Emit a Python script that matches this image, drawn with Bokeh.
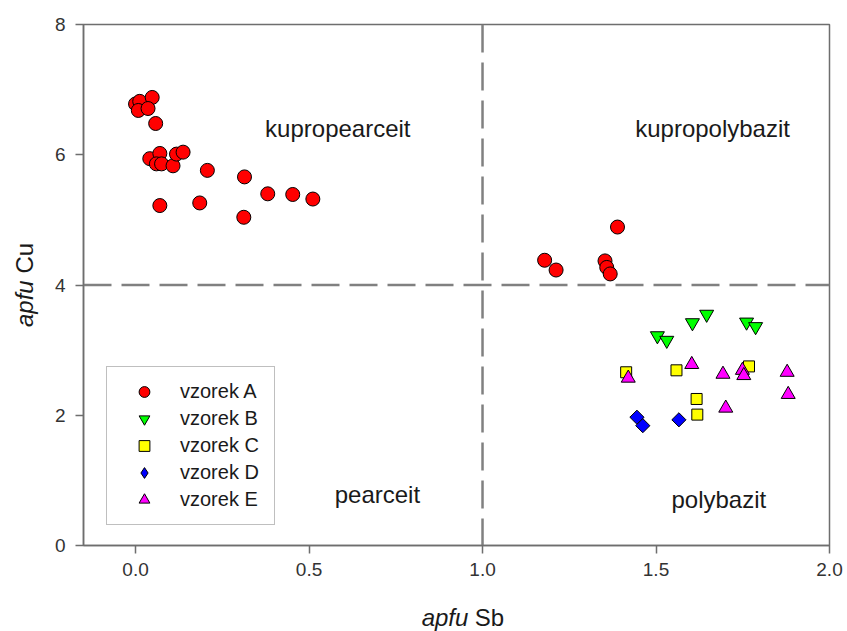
import math
from bokeh.plotting import figure
from bokeh.layouts import row, column
from bokeh.models import Span, Label, Legend, LegendItem, FixedTicker, CustomJSTickFormatter
from bokeh.embed import file_html
from bokeh.resources import INLINE

# ---- data (apfu Sb, apfu Cu) ----
a_sb = [0.00, 0.012, 0.048, 0.008, 0.036, 0.058, 0.041, 0.070, 0.060, 0.075, 0.108,
        0.118, 0.137, 0.207, 0.314, 0.381, 0.453, 0.511, 0.070, 0.185, 0.312,
        1.179, 1.212, 1.389, 1.353, 1.358, 1.368]
a_cu = [6.78, 6.82, 6.88, 6.68, 6.71, 6.48, 5.94, 6.02, 5.86, 5.86, 5.83,
        6.01, 6.04, 5.76, 5.66, 5.40, 5.39, 5.32, 5.22, 5.26, 5.04,
        4.38, 4.23, 4.89, 4.37, 4.27, 4.17]
b_sb = [1.504, 1.531, 1.605, 1.646, 1.761, 1.787]
b_cu = [3.22, 3.15, 3.42, 3.55, 3.43, 3.36]
c_sb = [1.414, 1.559, 1.768, 1.617, 1.619]
c_cu = [2.66, 2.69, 2.75, 2.25, 2.01]
d_sb = [1.445, 1.462, 1.566]
d_cu = [1.97, 1.84, 1.93]
e_sb = [1.420, 1.603, 1.693, 1.749, 1.753, 1.878, 1.881, 1.701]
e_cu = [2.57, 2.78, 2.63, 2.69, 2.61, 2.66, 2.32, 2.11]

series_names = ["vzorek A", "vzorek B", "vzorek C", "vzorek D", "vzorek E"]
x_ticks = [0.0, 0.5, 1.0, 1.5, 2.0]
y_ticks = [0, 2, 4, 6, 8]
region_names = ["kupropearceit", "kupropolybazit", "pearceit", "polybazit"]
x_title = ("apfu", "Sb")
y_title = ("apfu", "Cu")

FONT = "Liberation Sans"
AX = "#6e6e6e"
TXT = "#1a1a1a"


def blank(width, height):
    f = figure(width=width, height=height, x_range=(0, width), y_range=(0, height),
               output_backend="svg", toolbar_location=None, min_border=0,
               x_axis_location=None, y_axis_location=None)
    f.outline_line_color = None
    for g in f.grid:
        g.visible = False
    return f


# ---------------- main plot ----------------
p = figure(width=797, height=596, x_range=(-0.15, 2.0), y_range=(0, 8),
           output_backend="svg", toolbar_location=None,
           min_border_left=33, min_border_right=18, min_border_top=24, min_border_bottom=51)
p.xgrid.visible = False
p.ygrid.visible = False
p.outline_line_color = AX
p.outline_line_width = 1.5

for ax in (p.xaxis[0], p.yaxis[0]):
    ax.axis_line_color = AX
    ax.axis_line_width = 1.5
    ax.major_tick_line_color = AX
    ax.major_tick_line_width = 1.5
    ax.major_tick_out = 8
    ax.major_tick_in = 0
    ax.minor_tick_line_color = None
    ax.major_label_text_font = FONT
    ax.major_label_text_font_size = "19px"
    ax.major_label_text_color = "#333333"

p.xaxis[0].ticker = FixedTicker(ticks=x_ticks)
p.xaxis[0].formatter = CustomJSTickFormatter(code="return tick.toFixed(1);")
p.xaxis[0].major_label_standoff = 9
p.yaxis[0].ticker = FixedTicker(ticks=y_ticks)
p.yaxis[0].formatter = CustomJSTickFormatter(code="return tick.toFixed(0);")
p.yaxis[0].major_label_standoff = 10

for loc, dim in ((1.0, "height"), (4.0, "width")):
    p.add_layout(Span(location=loc, dimension=dim, line_color="#808080",
                      line_width=2.5, line_dash="28 10", level="underlay"))

rA = p.scatter(a_sb, a_cu, marker="circle", size=14, fill_color="#ff0000", line_color="black", line_width=1)
rB = p.scatter(b_sb, b_cu, marker="inverted_triangle", size=14, fill_color="#00ff00", line_color="black", line_width=1)
rC = p.scatter(c_sb, c_cu, marker="square", size=11, fill_color="#ffff00", line_color="black", line_width=1)
rD = p.scatter(d_sb, d_cu, marker="square", size=10, angle=math.pi / 4, fill_color="#0000ff", line_color="black", line_width=1)
rE = p.scatter(e_sb, e_cu, marker="triangle", size=14, fill_color="#ff00ff", line_color="black", line_width=1)
# legend-only glyph for the diamond symbol (not a data point)
rD_leg = p.scatter([float("nan")], [float("nan")], marker="diamond", size=10,
                   fill_color="#0000ff", line_color="black", line_width=1)

legend = Legend(items=[LegendItem(label=n, renderers=[r]) for n, r in zip(series_names, [rA, rB, rC, rD_leg, rE])],
                location=(23, 20), border_line_color="#808080", border_line_width=1,
                background_fill_color="white", background_fill_alpha=1,
                label_text_font=FONT, label_text_font_size="20px", label_text_color=TXT,
                glyph_width=52, glyph_height=27, label_height=20, spacing=0, padding=11,
                label_standoff=10, label_width=83, margin=0)
p.add_layout(legend)

region_pos = [(0.583, 6.41), (1.663, 6.41), (0.697, 0.78), (1.681, 0.70)]
for name, (xx, yy) in zip(region_names, region_pos):
    p.add_layout(Label(x=xx, y=yy, text=name, text_align="center", text_baseline="alphabetic",
                       text_font=FONT, text_font_size="24px", text_color=TXT))

# ---------------- axis titles (italic "apfu" + element) ----------------
xlab = blank(797, 35)
xlab.add_layout(Label(x=411.2, y=14, text=x_title[0], text_align="right", text_baseline="alphabetic",
                      text_font=FONT, text_font_size="24px", text_font_style="italic", text_color=TXT))
xlab.add_layout(Label(x=418.0, y=14, text=x_title[1], text_align="left", text_baseline="alphabetic",
                      text_font=FONT, text_font_size="24px", text_color=TXT))

ylab = blank(50, 631)
ylab.add_layout(Label(x=24, y=351.2, angle=math.pi / 2, text=y_title[0], text_align="right", text_baseline="middle",
                      text_font=FONT, text_font_size="24px", text_font_style="italic", text_color=TXT))
ylab.add_layout(Label(x=24, y=357.9, angle=math.pi / 2, text=y_title[1], text_align="left", text_baseline="middle",
                      text_font=FONT, text_font_size="24px", text_color=TXT))

layout = row(ylab, column(p, xlab, spacing=0), spacing=0)

open("out.html", "w").write(file_html(layout, INLINE))
